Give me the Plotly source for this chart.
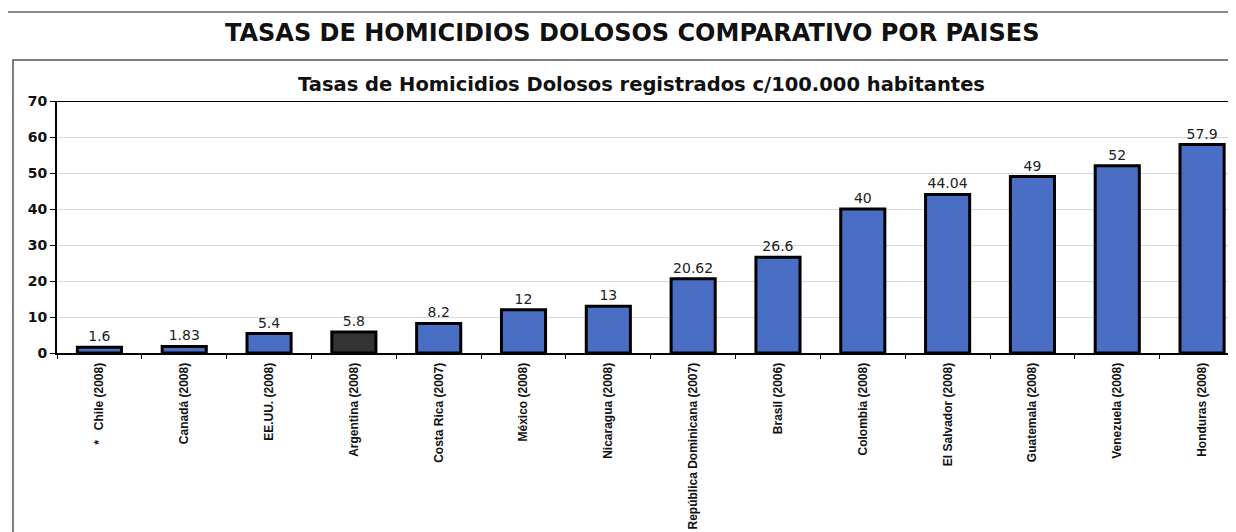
import plotly.graph_objects as go

countries = ["*   Chile (2008)", "Canadá (2008)", "EE.UU. (2008)", "Argentina (2008)",
             "Costa Rica (2007)", "México (2008)", "Nicaragua (2008)",
             "República Dominicana (2007)", "Brasil (2006)", "Colombia (2008)",
             "El Salvador (2008)", "Guatemala (2008)", "Venezuela (2008)", "Honduras (2008)"]
rates = [1.6, 1.83, 5.4, 5.8, 8.2, 12, 13, 20.62, 26.6, 40, 44.04, 49, 52, 57.9]
rate_labels = ["1.6", "1.83", "5.4", "5.8", "8.2", "12", "13", "20.62", "26.6", "40",
               "44.04", "49", "52", "57.9"]
y_ticks = [0, 10, 20, 30, 40, 50, 60, 70]

colors = ["#333333" if c.startswith("Argentina") else "#4A6EC4" for c in countries]

# the page body adds an 8px offset; layout is expressed in screen pixels
OFF = 8
W, H = 1236, 532
L = 57 - OFF
T = 101 - OFF
R = W - (1236 - OFF)
B = H - (353 - OFF)
pw, ph = W - L - R, H - T - B

def px_to_paper_y(py):
    return ((H - B) - (py - OFF)) / ph

def px_to_paper_x(px):
    return ((px - OFF) - L) / pw

fig = go.Figure()
fig.add_trace(go.Bar(
    x=countries, y=rates,
    marker=dict(color=colors, line=dict(color="#000000", width=3)),
    width=0.52,
    text=rate_labels, textposition="outside",
    textfont=dict(family="DejaVu Sans", size=14, color="#222222"),
    cliponaxis=False,
))

fig.update_layout(
    width=W, height=H,
    margin=dict(l=L, r=R, t=T, b=B, autoexpand=False),
    paper_bgcolor="white", plot_bgcolor="white",
    showlegend=False,
    xaxis=dict(
        range=[-0.5, 13.4],
        automargin=False,
        tickangle=-90,
        tickvals=countries,
        ticktext=["<b>" + c + "</b>" for c in countries],
        tickfont=dict(family="Liberation Sans Narrow, Arial Narrow, Liberation Sans", size=12, color="#111111"),
        showline=True, linecolor="#000000", linewidth=2,
        showgrid=False,
        ticks="outside", tickson="boundaries", ticklen=4, tickwidth=1, tickcolor="#000000",
        ticklabelstandoff=3,
    ),
    yaxis=dict(
        range=[0, 70],
        automargin=False,
        tickvals=y_ticks,
        ticktext=["<b>%d</b>" % v for v in y_ticks],
        tickfont=dict(family="DejaVu Sans", size=14, color="#111111"),
        showline=True, linecolor="#000000", linewidth=2,
        ticks="outside", ticklen=5, tickcolor="#000000", tickwidth=1,
        showgrid=True, gridcolor="#D8D8D8", gridwidth=1,
        zeroline=False,
    ),
)

# top border of plot area at y=70
fig.add_shape(type="line", xref="paper", yref="y", x0=0, x1=1, y0=70, y1=70,
              line=dict(color="#000000", width=2))
# top separator line
fig.add_shape(type="line", xref="paper", yref="paper",
              x0=px_to_paper_x(3), x1=px_to_paper_x(1245),
              y0=px_to_paper_y(12), y1=px_to_paper_y(12),
              line=dict(color="#666666", width=1.5))
# chart frame
fig.add_shape(type="rect", xref="paper", yref="paper",
              x0=px_to_paper_x(13), x1=px_to_paper_x(1250),
              y0=px_to_paper_y(545), y1=px_to_paper_y(60),
              line=dict(color="#555555", width=1.5))

fig.add_annotation(text="<b>TASAS DE HOMICIDIOS DOLOSOS COMPARATIVO POR PAISES</b>",
                   xref="paper", yref="paper", x=px_to_paper_x(632), y=px_to_paper_y(33),
                   showarrow=False, xanchor="center", yanchor="middle",
                   font=dict(family="DejaVu Sans", size=24, color="#111111"))
fig.add_annotation(text="<b>Tasas de Homicidios Dolosos registrados c/100.000 habitantes</b>",
                   xref="paper", yref="paper", x=px_to_paper_x(641), y=px_to_paper_y(84),
                   showarrow=False, xanchor="center", yanchor="middle",
                   font=dict(family="DejaVu Sans", size=19.5, color="#111111"))

fig.write_html("out.html")
